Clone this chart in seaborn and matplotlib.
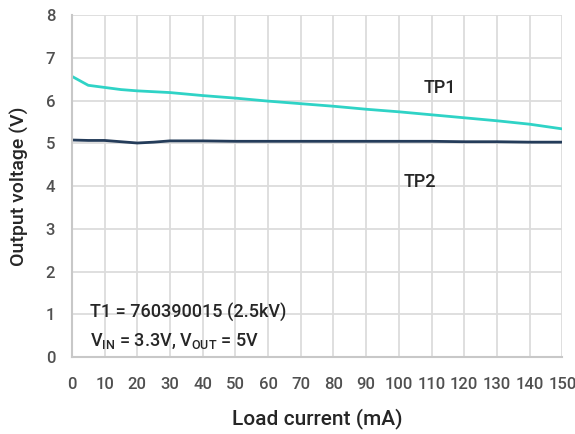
import matplotlib
matplotlib.use("Agg")
import matplotlib.pyplot as plt
import pandas as pd
import seaborn as sns

# load current (mA) and measured output voltage (V)
load_ma = [0, 5, 10, 15, 20, 25, 30, 40, 50, 60, 70, 80, 90, 100, 110, 120, 130, 140, 150]
tp1_v = [6.57, 6.36, 6.31, 6.26, 6.23, 6.21, 6.19, 6.12, 6.06, 5.99, 5.93, 5.87, 5.80,
         5.74, 5.67, 5.60, 5.53, 5.45, 5.34]
tp2_v = [5.08, 5.07, 5.07, 5.04, 5.01, 5.03, 5.06, 5.06, 5.05, 5.05, 5.05, 5.05, 5.05,
         5.05, 5.05, 5.04, 5.04, 5.03, 5.03]

x_ticks = list(range(0, 151, 10))
y_ticks = list(range(0, 9))

df = pd.DataFrame({"load": load_ma * 2,
                   "voltage": tp1_v + tp2_v,
                   "series": ["TP1"] * len(load_ma) + ["TP2"] * len(load_ma)})

sns.set_style("white")
plt.rcParams["font.family"] = ["Roboto", "DejaVu Sans"]
plt.rcParams["font.weight"] = "medium"
plt.rcParams["mathtext.default"] = "regular"

fig, ax = plt.subplots(figsize=(5.75, 4.34), dpi=100)
fig.subplots_adjust(left=0.125, right=0.978, top=0.965, bottom=0.177)

sns.lineplot(data=df, x="load", y="voltage", hue="series",
             palette={"TP1": "#2fd3c6", "TP2": "#243c5a"},
             linewidth=2, legend=False, ax=ax)

ax.set_xlim(0, 150)
ax.set_ylim(0, 8)
ax.set_xticks(x_ticks)
ax.set_yticks(y_ticks)
ax.grid(True, color="#dcdcdc", linewidth=1.3)
ax.set_axisbelow(True)
for side in ["top", "right"]:
    ax.spines[side].set_visible(False)
for side in ["left", "bottom"]:
    ax.spines[side].set_color("#c8c8c8")
    ax.spines[side].set_linewidth(1.5)
ax.tick_params(axis="both", length=0, labelsize=12, colors="#505050")
ax.tick_params(axis="x", pad=14)
ax.tick_params(axis="y", pad=12)

ax.set_xlabel("Load current (mA)", fontsize=15, labelpad=12, fontweight="medium")
ax.set_ylabel("Output voltage (V)", fontsize=14, labelpad=12, fontweight="medium")

ax.text(112.5, 6.3, "TP1", fontsize=13, ha="center", va="center")
ax.text(106.5, 4.1, "TP2", fontsize=13, ha="center", va="center")
ax.text(5.5, 1.05, "T1 = 760390015 (2.5kV)", fontsize=13, va="center")
ax.text(5.5, 0.38, r"V$_{IN}$ = 3.3V, V$_{OUT}$ = 5V", fontsize=13, va="center")

fig.savefig("out.png", dpi=100)
